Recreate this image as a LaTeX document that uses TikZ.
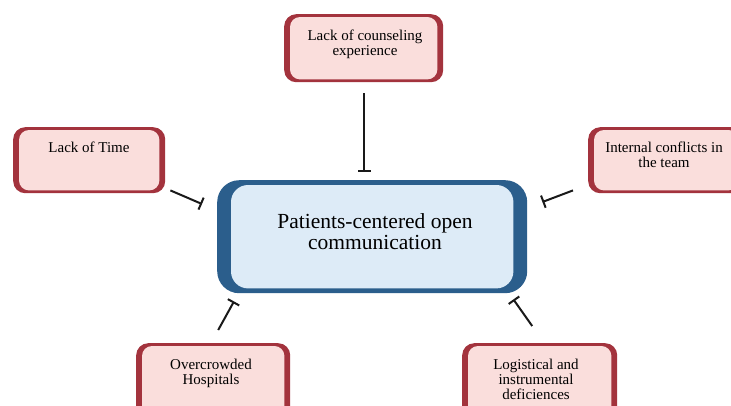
\documentclass[tikz,border=0pt]{standalone}
\usepackage{fontspec}
\setmainfont{Liberation Serif}
\usetikzlibrary{arrows.meta,calc}
\definecolor{causeedge}{HTML}{A3333D}
\definecolor{causefill}{HTML}{FADEDC}
\definecolor{mainedge}{HTML}{2B5E8C}
\definecolor{mainfill}{HTML}{DDEBF7}
\begin{document}
\begin{tikzpicture}[x=1pt,y=-1pt,
  causebox/.style={rectangle, rounded corners=12pt, fill=causeedge, inner sep=0pt, anchor=north west},
  causetext/.style={align=center, inner sep=0pt, anchor=north, font=\fontsize{15}{15}\selectfont},
  maintext/.style={align=center, inner sep=0pt, anchor=north, font=\fontsize{21.5}{20.5}\selectfont},
  inhib/.style={draw=black!90, line width=2pt, -{Bar[width=13pt, line width=2pt]}}]
  \useasboundingbox (0,0) rectangle (731,405);
  \clip (0,0) rectangle (731,405);

  % central box
  \node[rectangle, rounded corners=22pt, fill=mainedge, inner sep=0pt, anchor=north west,
        minimum width=310pt, minimum height=113pt] (main) at (217,180) {};
  \fill[mainfill, rounded corners=17pt] ($(main.north west)+(14,5)$) rectangle ($(main.south east)+(-14,-5)$);
  \node[maintext] (mainT) at (375,213.5) {Patients-centered open\\communication};

  % surrounding barriers
  \node[causebox, minimum width=159pt, minimum height=68pt] (top) at (284,14) {};
  \node[causebox, minimum width=152pt, minimum height=66pt] (time) at (13,127) {};
  \node[causebox, minimum width=156pt, minimum height=66pt] (conf) at (588,127) {};
  \node[causebox, minimum width=154pt, minimum height=80pt] (crowd) at (136,343) {};
  \node[causebox, minimum width=155pt, minimum height=80pt] (logi) at (462,343) {};
  \foreach \b in {top,time,conf,crowd,logi}
    \fill[causefill, rounded corners=10pt] ($(\b.north west)+(6,3)$) rectangle ($(\b.south east)+(-6,-3)$);

  \node[causetext] (topT) at (365,29.6) {Lack of counseling\\experience};
  \node[causetext] (timeT) at (89,142) {Lack of Time};
  \node[causetext] (confT) at (664,142) {Internal conflicts in\\the team};
  \node[causetext] (crowdT) at (211,358.7) {Overcrowded\\Hospitals};
  \node[causetext] (logiT) at (536,358.7) {Logistical and\\instrumental\\deficiences};

  % inhibiting connectors
  \draw[inhib] ($(top.south)+(0.5,11)$) -- ($(main.north)+(-8,-8)$);
  \draw[inhib] ($(time.south east)+(5,-3)$) -- ($(main.north west)+(-15,24)$);
  \draw[inhib] ($(conf.south west)+(-15,-3)$) -- ($(main.north east)+(15,22)$);
  \draw[inhib] ($(crowd.north)+(5,-13)$) -- ($(main.south west)+(17,8)$);
  \draw[inhib] ($(logi.north)+(-7.5,-17)$) -- ($(main.south east)+(-14,6)$);
\end{tikzpicture}
\end{document}
